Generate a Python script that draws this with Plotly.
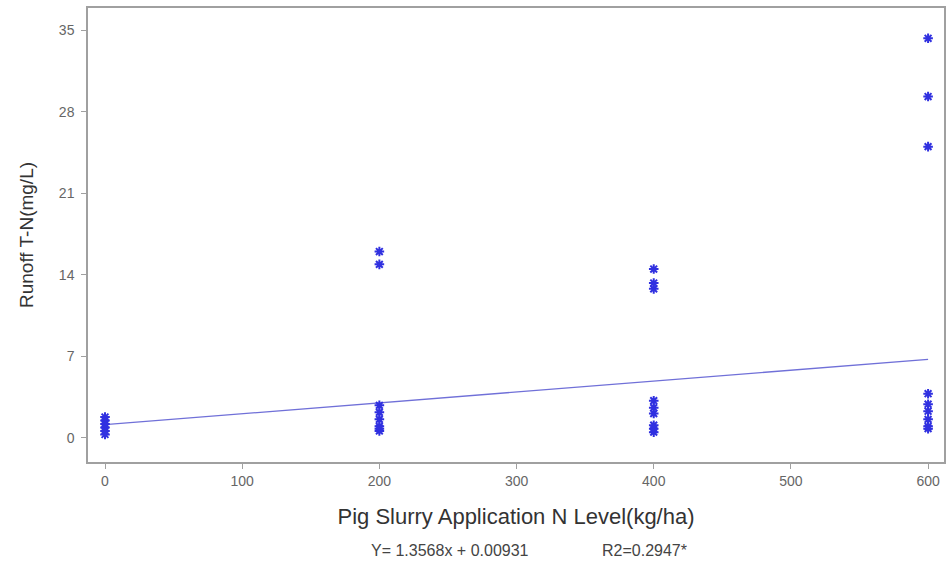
import plotly.graph_objects as go

# Pig slurry N application level (kg/ha) and runoff total nitrogen (mg/L)
n_level_0 = [0, 0, 0, 0, 0, 0]
tn_0 = [0.3, 0.6, 0.9, 1.2, 1.5, 1.8]
n_level_200 = [200, 200, 200, 200, 200, 200, 200, 200]
tn_200 = [0.6, 0.8, 1.0, 1.6, 2.2, 2.8, 14.9, 16.0]
n_level_400 = [400, 400, 400, 400, 400, 400, 400, 400, 400]
tn_400 = [0.5, 0.8, 1.1, 2.1, 2.6, 3.2, 12.8, 13.3, 14.5]
n_level_600 = [600, 600, 600, 600, 600, 600, 600, 600, 600]
tn_600 = [0.8, 1.0, 1.6, 2.3, 2.9, 3.8, 25.0, 29.3, 34.3]

# fitted regression line endpoints
fit_x = [0, 600]
fit_y = [1.15, 6.75]

y_ticks = [0, 7, 14, 21, 28, 35]
y_tick_text = ["0", "7", "14", "21", "28", "35"]
x_ticks = [0, 100, 200, 300, 400, 500, 600]

equation_text = "Y= 1.3568x + 0.00931"
r2_text = "R2=0.2947*"

x_all = n_level_0 + n_level_200 + n_level_400 + n_level_600
y_all = tn_0 + tn_200 + tn_400 + tn_600

FONT = "Liberation Sans"

fig = go.Figure()
fig.add_trace(go.Scatter(
    x=fit_x, y=fit_y, mode="lines",
    line=dict(color="#7070d8", width=1.3),
    showlegend=False, hoverinfo="skip",
))
fig.add_trace(go.Scatter(
    x=x_all, y=y_all, mode="markers",
    marker=dict(symbol="asterisk-open", size=8, color="#3030e0",
                line=dict(color="#3030e0", width=2)),
    showlegend=False,
))

axis_common = dict(
    showline=True, linecolor="#a0a0a0", linewidth=1.5, mirror=True,
    showgrid=False, zeroline=False,
    ticks="outside", ticklen=5, tickcolor="#a0a0a0",
    tickfont=dict(family=FONT, size=14, color="#666666"),
)

fig.update_xaxes(
    range=[-12.4, 611.6], tickvals=x_ticks, **axis_common,
    title=dict(text="Pig Slurry Application N Level(kg/ha)",
               font=dict(family=FONT, size=22, color="#333333"),
               standoff=21),
)
fig.update_yaxes(
    range=[-2.06, 36.9], tickvals=y_ticks, ticktext=y_tick_text, **axis_common,
    ticklabelstandoff=4,
    title=dict(text="Runoff T-N(mg/L)",
               font=dict(family=FONT, size=19, color="#333333"),
               standoff=20),
)

# regression equation and coefficient of determination below the x-axis title
fig.add_annotation(
    text=equation_text, xref="paper", yref="paper", x=0.423, y=-0.194,
    showarrow=False, xanchor="center", yanchor="middle",
    font=dict(family=FONT, size=16, color="#444444"),
)
fig.add_annotation(
    text=r2_text, xref="paper", yref="paper", x=0.650, y=-0.194,
    showarrow=False, xanchor="center", yanchor="middle",
    font=dict(family=FONT, size=16, color="#444444"),
)

fig.update_layout(
    width=951, height=567,
    margin=dict(l=88, r=5, t=8, b=105),
    paper_bgcolor="white", plot_bgcolor="white",
)

fig.write_html("out.html")
